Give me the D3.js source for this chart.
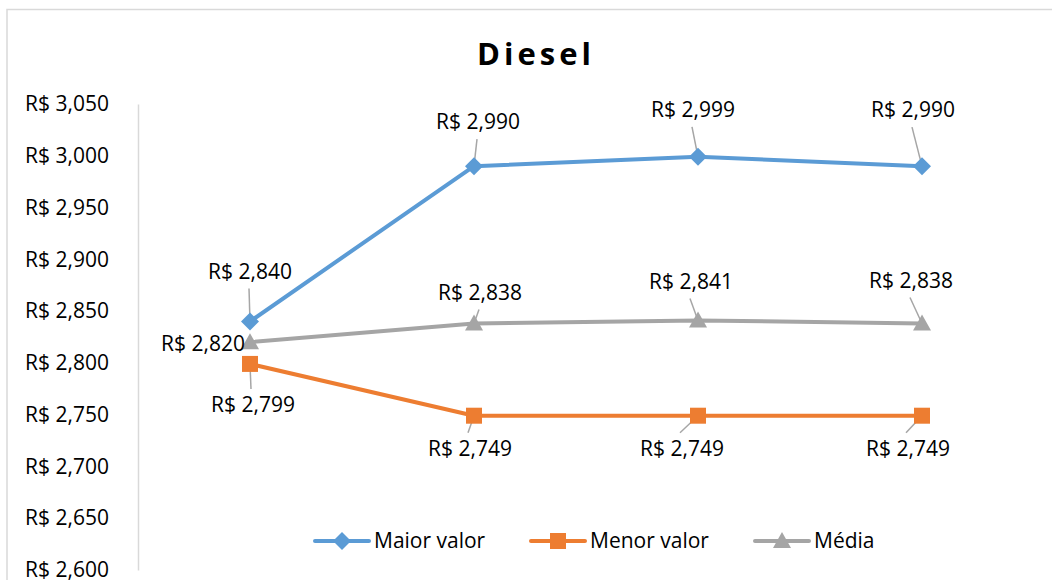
<!DOCTYPE html>
<html>
<head>
<meta charset="utf-8">
<script src="https://cdn.jsdelivr.net/npm/d3@7"></script>
<style>
  html, body { margin: 0; padding: 0; background: #fff; }
  svg { display: block; font-family: "Open Sans", sans-serif; }
</style>
</head>
<body>
<div id="chart"></div>
<script>
// chart data
const categories = ['1', '2', '3', '4'];
const maiorValor = [2.840, 2.990, 2.999, 2.990];
const menorValor = [2.799, 2.749, 2.749, 2.749];
const media = [2.820, 2.838, 2.841, 2.838];
const yTicks = [2.600, 2.650, 2.700, 2.750, 2.800, 2.850, 2.900, 2.950, 3.000, 3.050];

// where each data label was dragged to, relative to its point
const maiorLabelOffsets = [[0, -50], [4, -44], [-5, -47], [-9, -56]];
const menorLabelOffsets = [[3, 41], [-4, 33], [-16, 33], [-14, 33]];
const mediaLabelOffsets = [[-48, 1], [6, -31], [-7, -39], [-11, -43]];

const width = 1052;
const height = 580;

const svg = d3.select('#chart')
  .append('svg')
  .attr('width', width)
  .attr('height', height);

// chart border (cut off right and bottom)
svg.append('rect')
  .attr('x', 7)
  .attr('y', 9.5)
  .attr('width', 1100)
  .attr('height', 700)
  .attr('fill', 'none')
  .attr('stroke', '#d9d9d9')
  .attr('stroke-width', 1.5);

const x = d3.scaleBand()
  .domain(categories)
  .range([138, 1034]);

const y = d3.scaleLinear()
  .domain([2.600, 3.050])
  .range([570, 104]);

const fmt = v => 'R$ ' + d3.format('.3f')(v).replace('.', ',');

// title
svg.append('text')
  .attr('x', 536)
  .attr('y', 65)
  .attr('text-anchor', 'middle')
  .style('font-size', '31px')
  .style('font-weight', 'bold')
  .style('letter-spacing', '4px')
  .style('fill', '#000')
  .text('Diesel');

// y axis
const yAxis = svg.append('g')
  .attr('transform', 'translate(138,0)')
  .call(d3.axisLeft(y).tickValues(yTicks).tickSize(0).tickPadding(29).tickFormat(fmt));
yAxis.select('.domain').attr('stroke', '#d9d9d9').attr('stroke-width', 1.5);
yAxis.selectAll('text')
  .style('font-family', '"Open Sans", sans-serif')
  .style('font-size', '21px')
  .style('fill', '#000');

const cx = c => x(c) + x.bandwidth() / 2;

const series = [
  {name: 'Maior valor', values: maiorValor, color: '#5b9bd5', marker: 'diamond', offsets: maiorLabelOffsets},
  {name: 'Menor valor', values: menorValor, color: '#ed7d31', marker: 'square', offsets: menorLabelOffsets},
  {name: 'Média', values: media, color: '#a5a5a5', marker: 'triangle', offsets: mediaLabelOffsets}
];

const markerPath = (type) => {
  if (type === 'diamond') return 'M0,-9L9,0L0,9L-9,0Z';
  if (type === 'square') return 'M-8,-8H8V8H-8Z';
  return 'M0,-9L9,7H-9Z';
};

const line = d3.line()
  .x((d, i) => cx(categories[i]))
  .y(d => y(d));

// leader lines go under everything
const leaders = svg.append('g');

series.forEach(s => {
  svg.append('path')
    .datum(s.values)
    .attr('d', line)
    .attr('fill', 'none')
    .attr('stroke', s.color)
    .attr('stroke-width', 4)
    .attr('stroke-linejoin', 'round')
    .attr('stroke-linecap', 'round');
});

series.forEach(s => {
  svg.append('g')
    .selectAll('path')
    .data(s.values)
    .enter()
    .append('path')
    .attr('d', markerPath(s.marker))
    .attr('transform', (d, i) => 'translate(' + cx(categories[i]) + ',' + y(d) + ')')
    .attr('fill', s.color);
});

// data labels with leader lines
series.forEach(s => {
  s.values.forEach((v, i) => {
    const px = cx(categories[i]);
    const py = y(v);
    const [dx, dy] = s.offsets[i];
    const lx = px + dx;
    const ly = py + dy;
    const anchor = (s.marker === 'triangle' && i === 0) ? 'end' : 'middle';
    svg.append('text')
      .attr('x', anchor === 'end' ? px - 5 : lx)
      .attr('y', ly)
      .attr('dy', '0.35em')
      .attr('text-anchor', anchor)
      .style('font-size', '21px')
      .style('fill', '#000')
      .text(fmt(v));
    if (anchor === 'middle') {
      const ey = dy < 0 ? ly + 17 : ly - 16;
      if (Math.abs(ey - py) > 6) {
        leaders.append('line')
          .attr('x1', lx + (dy < 0 ? -1 : -2))
          .attr('y1', ey)
          .attr('x2', px)
          .attr('y2', py)
          .attr('stroke', '#a6a6a6')
          .attr('stroke-width', 1.5);
      }
    }
  });
});

// legend
const legendX = [315, 531, 755];
const legend = svg.append('g');
series.forEach((s, i) => {
  const g = legend.append('g').attr('transform', 'translate(' + legendX[i] + ',541)');
  g.append('line')
    .attr('x1', 0).attr('x2', 54)
    .attr('stroke', s.color)
    .attr('stroke-width', 4)
    .attr('stroke-linecap', 'round');
  g.append('path')
    .attr('d', markerPath(s.marker))
    .attr('transform', 'translate(27,0)')
    .attr('fill', s.color);
  g.append('text')
    .attr('x', 59)
    .attr('dy', '0.35em')
    .style('font-size', '21px')
    .style('fill', '#000')
    .text(s.name);
});
</script>
</body>
</html>
